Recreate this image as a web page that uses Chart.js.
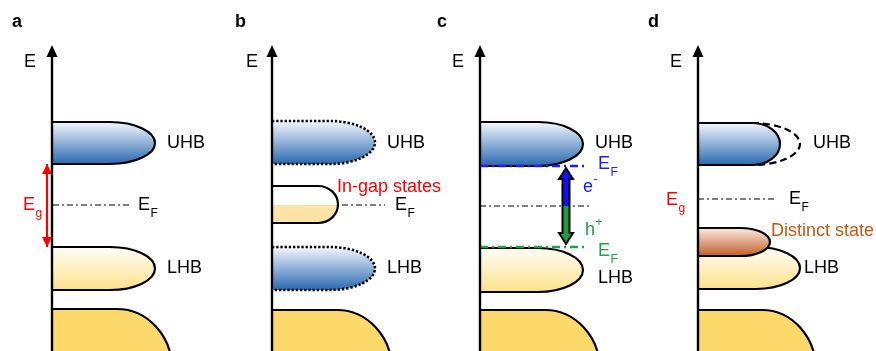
<!DOCTYPE html>
<html lang="en">
<head>
<meta charset="UTF-8">
<title>Hubbard band schematics</title>
<script src="https://cdn.jsdelivr.net/npm/chart.js@4.4.0/dist/chart.umd.min.js"></script>
<style>
    html, body { margin: 0; padding: 0; background: #fff; overflow: hidden; }
    #wrap { position: relative; width: 876px; height: 351px; }
    canvas { position: absolute; top: 0; }
</style>
</head>
<body>
<div id="wrap"></div>
<script>
// energies: panel a Fermi level = 0, DOS in arbitrary units (axis at 0)
const panelNames = ['a', 'b', 'c', 'd'];
// bands: [top, bottom, plateau end, max DOS]
const uhb = [[4.15, 2.05, 2.9, 5.15], [4.2, 2.05, 2.9, 5.15], [4.15, 1.95, 2.9, 5.15], [4.1, 2.0, 2.7, 4.1]];
const lhb = [[-2.1, -4.25, 2.9, 5.15], [-2.1, -4.25, 2.9, 5.15], [-2.15, -4.35, 2.9, 5.15], [-2.1, -4.2, 2.9, 5.1]];
// lower filled band: [top, plateau end, fall-off width, fall-off depth]
const core = [[-5.2, 3.25, 2.75, 3.0], [-5.25, 3.25, 2.75, 3.0], [-5.25, 3.25, 2.75, 3.0], [-5.25, 3.2, 2.7, 3.0]];
const fermi = [0, 0, -0.05, 0.3];
const inGap = [0.95, -0.9, 2.3, 3.3];         // panel b
const uhbBefore = [4.1, 2.0, 2.7, 5.1];       // panel d, dashed
const distinct = [-1.15, -2.55, 2.1, 3.6];    // panel d
const dopedFermi = [1.95, -2.1];              // panel c: electron, hole doping
const carrierArrow = [1.85, -0.05, -1.95];    // panel c: top, split, bottom
const gapArrow = [2.05, -2.1];                // panel a

// layout
const axisLeft = [52, 272, 480, 698];
const PX = 20;          // pixels per unit
const CW = 240, CH = 351;
const FONT = "'Liberation Sans', Arial, sans-serif";
const RED = '#ff0000', BLUE = '#1c1cff', GREEN = '#19a63f', BROWN = '#c55a11';

const fermiSpan = [[0.05, 3.9], [3.5, 5.65], [0, 5.6], [0, 3.9]];
const dopedSpan = [0, 5.35];
const gapArrowX = -0.25, carrierArrowX = 4.3;

const labels = [
    [{t: 'a', bold: true, x: -2.0, y: 9.15}, {t: 'E', center: true, x: -1.1, y: 7.15},
     {t: 'UHB', x: 5.75, y: 3.1}, {t: 'LHB', x: 5.75, y: -3.15},
     {t: 'E', sub: 'F', x: 4.3, y: 0}, {t: 'E', sub: 'g', x: -1.45, y: 0, c: RED}],
    [{t: 'b', bold: true, x: -1.85, y: 9.15}, {t: 'E', center: true, x: -1.0, y: 7.15},
     {t: 'UHB', x: 5.75, y: 3.1}, {t: 'LHB', x: 5.75, y: -3.15},
     {t: 'In-gap states', x: 3.25, y: 0.9, c: RED}, {t: 'E', sub: 'F', x: 6.15, y: 0}],
    [{t: 'c', bold: true, x: -2.15, y: 9.15}, {t: 'E', center: true, x: -1.1, y: 7.15},
     {t: 'UHB', x: 5.75, y: 3.1}, {t: 'E', sub: 'F', x: 5.9, y: 2.05, c: BLUE},
     {t: 'e', sup: '-', x: 5.15, y: 0.9, c: BLUE}, {t: 'h', sup: '+', x: 5.25, y: -1.25, c: GREEN},
     {t: 'E', sub: 'F', x: 5.9, y: -2.3, c: GREEN}, {t: 'LHB', x: 5.9, y: -3.65}],
    [{t: 'd', bold: true, x: -2.5, y: 9.15}, {t: 'E', center: true, x: -1.1, y: 7.15},
     {t: 'UHB', x: 5.75, y: 3.1}, {t: 'E', sub: 'g', x: -1.6, y: 0.25, c: RED},
     {t: 'E', sub: 'F', x: 4.55, y: 0.3}, {t: 'Distinct state', x: 3.65, y: -1.3, c: BROWN},
     {t: 'LHB', x: 5.3, y: -3.15}]
];

const blueGrad = ['#f4f8fd', '#2a69b0'];
const yellowGrad = ['#fffef8', '#fde18a'];
const orangeGrad = ['#fcece2', '#c25f28'];

function bandPath(ctx, xs, ys, b) {
    const x0 = xs.getPixelForValue(0), yT = ys.getPixelForValue(b[0]), yB = ys.getPixelForValue(b[1]);
    const xp = xs.getPixelForValue(b[2]), xt = xs.getPixelForValue(b[3]);
    ctx.beginPath();
    ctx.moveTo(x0, yT);
    ctx.lineTo(xp, yT);
    ctx.ellipse(xp, (yT + yB) / 2, xt - xp, (yB - yT) / 2, 0, -Math.PI / 2, Math.PI / 2);
    ctx.lineTo(x0, yB);
    return [yT, yB];
}

function drawBand(ctx, xs, ys, b, grad, dash) {
    const [yT, yB] = bandPath(ctx, xs, ys, b);
    if (grad) {
        const g = ctx.createLinearGradient(0, yT, 0, yB);
        g.addColorStop(0, grad[0]);
        g.addColorStop(1, grad[1]);
        ctx.fillStyle = g;
        ctx.fill();
    }
    ctx.setLineDash(dash || []);
    ctx.lineWidth = dash ? 2.6 : 2.2;
    ctx.strokeStyle = '#000';
    ctx.stroke();
    ctx.setLineDash([]);
}

function drawCore(ctx, xs, ys, c) {
    const x0 = xs.getPixelForValue(0), yT = ys.getPixelForValue(c[0]), xp = xs.getPixelForValue(c[1]);
    const a = xs.getPixelForValue(c[1] + c[2]) - xp, b = ys.getPixelForValue(c[0] - c[3]) - yT;
    ctx.beginPath();
    ctx.moveTo(x0, yT);
    ctx.lineTo(xp, yT);
    ctx.ellipse(xp, yT + b, a, b, 0, -Math.PI / 2, 0);
    ctx.lineTo(xp + a, CH + 20);
    ctx.lineTo(x0, CH + 20);
    ctx.fillStyle = '#fdd96b';
    ctx.fill();
    ctx.lineWidth = 2.2;
    ctx.strokeStyle = '#000';
    ctx.stroke();
}

function drawText(ctx, xs, ys, l) {
    const x = xs.getPixelForValue(l.x), y = ys.getPixelForValue(l.y);
    ctx.fillStyle = l.c || '#000';
    ctx.font = (l.bold ? 'bold ' : '') + '18px ' + FONT;
    ctx.textAlign = l.center ? 'center' : 'left';
    ctx.textBaseline = 'middle';
    ctx.fillText(l.t, x, y);
    if (l.sub || l.sup) {
        const w = ctx.measureText(l.t).width;
        ctx.font = '12px ' + FONT;
        ctx.textAlign = 'left';
        ctx.fillText(l.sub || l.sup, x + w + 0.5, y + (l.sub ? 9 : -7));
    }
}

function arrowHead(ctx, x, y, dir, half, len) {
    ctx.beginPath();
    ctx.moveTo(x, y);
    ctx.lineTo(x - half, y + dir * len);
    ctx.lineTo(x + half, y + dir * len);
    ctx.closePath();
    ctx.fill();
}

const diagram = {
    id: 'diagram',
    beforeDatasetsDraw(chart, args, opts) {
        const p = opts.panel, ctx = chart.ctx, xs = chart.scales.x, ys = chart.scales.y;
        ctx.save();
        drawCore(ctx, xs, ys, core[p]);
        if (p === 1) {
            drawBand(ctx, xs, ys, uhb[p], blueGrad, [2.3, 1.9]);
            drawBand(ctx, xs, ys, lhb[p], blueGrad, [2.3, 1.9]);
            // in-gap states, filled up to the Fermi level
            bandPath(ctx, xs, ys, inGap);
            ctx.fillStyle = '#fff';
            ctx.fill();
            ctx.save();
            const yF = ys.getPixelForValue(fermi[p]);
            ctx.beginPath();
            ctx.rect(0, yF, CW, CH);
            ctx.clip();
            bandPath(ctx, xs, ys, inGap);
            ctx.fillStyle = '#fde3a6';
            ctx.fill();
            ctx.restore();
            drawBand(ctx, xs, ys, inGap, null);
        } else if (p === 3) {
            drawBand(ctx, xs, ys, lhb[p], yellowGrad);
            drawBand(ctx, xs, ys, distinct, orangeGrad);
            drawBand(ctx, xs, ys, uhb[p], blueGrad);
            // previous UHB extent, dashed
            const yT = ys.getPixelForValue(uhbBefore[0]), yB = ys.getPixelForValue(uhbBefore[1]);
            const xp = xs.getPixelForValue(uhbBefore[2]), xt = xs.getPixelForValue(uhbBefore[3]);
            ctx.beginPath();
            ctx.ellipse(xp, (yT + yB) / 2, xt - xp, (yB - yT) / 2, 0, -Math.PI / 2, Math.PI / 2);
            ctx.setLineDash([7, 4]);
            ctx.lineWidth = 2.2;
            ctx.stroke();
            ctx.setLineDash([]);
        } else {
            drawBand(ctx, xs, ys, uhb[p], blueGrad);
            drawBand(ctx, xs, ys, lhb[p], yellowGrad);
        }
        ctx.restore();
    },
    afterDatasetsDraw(chart, args, opts) {
        const p = opts.panel, ctx = chart.ctx, xs = chart.scales.x, ys = chart.scales.y;
        ctx.save();
        // energy axis
        const x0 = xs.getPixelForValue(0), yTip = ys.getPixelForValue(8.0);
        ctx.strokeStyle = '#000';
        ctx.lineWidth = 2.4;
        ctx.beginPath();
        ctx.moveTo(x0, CH);
        ctx.lineTo(x0, yTip + 8);
        ctx.stroke();
        ctx.fillStyle = '#000';
        arrowHead(ctx, x0, yTip, 1, 5.5, 12);

        if (p === 0) {
            const ax = xs.getPixelForValue(gapArrowX);
            ctx.fillStyle = RED;
            arrowHead(ctx, ax, ys.getPixelForValue(gapArrow[0]), 1, 5, 10);
            arrowHead(ctx, ax, ys.getPixelForValue(gapArrow[1]), -1, 5, 10);
        }
        if (p === 2) {
            const cx = xs.getPixelForValue(carrierArrowX);
            const yT = ys.getPixelForValue(carrierArrow[0]), yS = ys.getPixelForValue(carrierArrow[1]);
            const yB = ys.getPixelForValue(carrierArrow[2]);
            const hw = 7, sw = 3.5, hl = 11;
            const path = () => {
                ctx.beginPath();
                ctx.moveTo(cx, yT);
                ctx.lineTo(cx + hw, yT + hl); ctx.lineTo(cx + sw, yT + hl);
                ctx.lineTo(cx + sw, yB - hl); ctx.lineTo(cx + hw, yB - hl);
                ctx.lineTo(cx, yB);
                ctx.lineTo(cx - hw, yB - hl); ctx.lineTo(cx - sw, yB - hl);
                ctx.lineTo(cx - sw, yT + hl); ctx.lineTo(cx - hw, yT + hl);
                ctx.closePath();
            };
            ctx.save();
            ctx.beginPath(); ctx.rect(0, 0, CW, yS); ctx.clip();
            path(); ctx.fillStyle = '#1010f0'; ctx.fill();
            ctx.restore();
            ctx.save();
            ctx.beginPath(); ctx.rect(0, yS, CW, CH); ctx.clip();
            path(); ctx.fillStyle = '#1e9e3e'; ctx.fill();
            ctx.restore();
            path();
            ctx.lineWidth = 2;
            ctx.strokeStyle = '#000';
            ctx.stroke();
        }
        labels[p].forEach(l => drawText(ctx, xs, ys, l));
        ctx.restore();
    }
};

function level(e, span, color, width, dash) {
    return {
        data: [{x: span[0], y: e}, {x: span[1], y: e}],
        showLine: true, borderColor: color, borderWidth: width, borderDash: dash,
        pointRadius: 0, fill: false
    };
}

const wrap = document.getElementById('wrap');
panelNames.forEach((name, p) => {
    const canvas = document.createElement('canvas');
    canvas.width = CW;
    canvas.height = CH;
    canvas.style.left = (axisLeft[p] - 52) + 'px';
    wrap.appendChild(canvas);

    const datasets = [];
    if (p === 2) {
        datasets.push(level(dopedFermi[0], dopedSpan, BLUE, 2.6, [8, 4, 2, 4]));
        datasets.push(level(fermi[p], fermiSpan[p], '#000', 1.2, [6, 3, 2, 3]));
        datasets.push(level(dopedFermi[1], dopedSpan, GREEN, 2.6, [8, 4, 2, 4]));
    } else {
        datasets.push(level(fermi[p], fermiSpan[p], '#000', 1.2, [6, 3, 2, 3]));
    }
    if (p === 0) {
        // band gap arrow shaft
        datasets.push({
            data: [{x: gapArrowX, y: gapArrow[0]}, {x: gapArrowX, y: gapArrow[1]}],
            showLine: true, borderColor: RED, borderWidth: 2.2, pointRadius: 0, fill: false
        });
    }

    new Chart(canvas, {
        type: 'scatter',
        data: {datasets},
        options: {
            responsive: false,
            animation: false,
            events: [],
            layout: {padding: 0},
            scales: {
                x: {type: 'linear', display: false, min: -52 / PX, max: (CW - 52) / PX},
                y: {type: 'linear', display: false, min: -(CH - 205) / PX, max: 205 / PX}
            },
            plugins: {legend: {display: false}, tooltip: {enabled: false}, diagram: {panel: p}}
        },
        plugins: [diagram]
    });
});
</script>
</body>
</html>
